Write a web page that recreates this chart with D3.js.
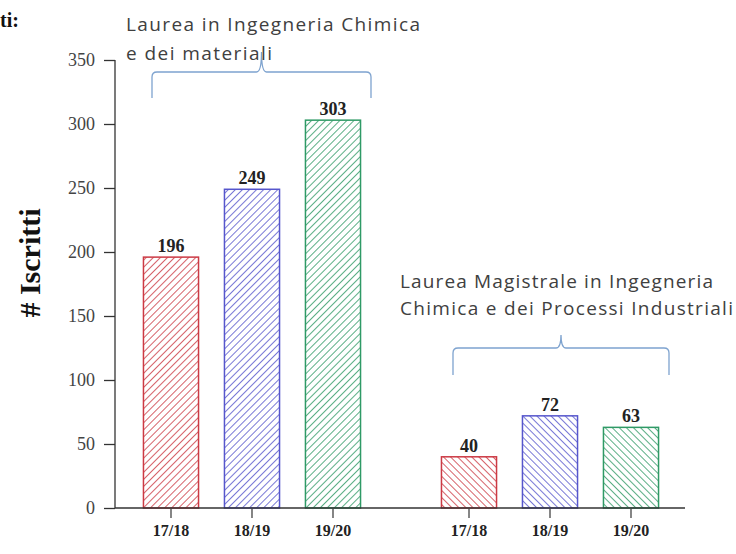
<!DOCTYPE html>
<html>
<head>
<meta charset="utf-8">
<script src="https://cdn.jsdelivr.net/npm/d3@7"></script>
<style>
body{margin:0;background:#fff;}
svg{display:block;}
</style>
</head>
<body>
<script>
// data
var groups = ['LT', 'LM'];
var years = ['17/18', '18/19', '19/20'];
var iscrittiLT = [196, 249, 303];
var iscrittiLM = [40, 72, 63];
var yTicks = [0, 50, 100, 150, 200, 250, 300, 350];
var groupLabels = [
	['Laurea in Ingegneria Chimica', 'e dei materiali'],
	['Laurea Magistrale in Ingegneria', 'Chimica e dei Processi Industriali']
];
var colors = ['#cc3a44', '#5656cc', '#2f9a66'];

var w = 736, h = 554;
var svg = d3.select("body").append("svg")
	.attr("width", w)
	.attr("height", h);

var y = d3.scaleLinear().domain([0, 350]).range([508, 60]);
var x0 = d3.scaleBand().domain(groups).range([130.5, 671.5]).paddingInner(0.1846).paddingOuter(0);
var x1 = d3.scaleBand().domain(years).range([0, x0.bandwidth()]).paddingInner(0.32).paddingOuter(0.16);

var rows = [];
groups.forEach(function(g, gi)
{
	var vals = gi == 0 ? iscrittiLT : iscrittiLM;
	years.forEach(function(yr, i)
	{
		rows.push({group: g, gi: gi, year: yr, i: i, value: vals[i]});
	});
});

// hatch patterns
var defs = svg.append("defs");
rows.forEach(function(d)
{
	var p = defs.append("pattern")
		.attr("id", "h" + d.gi + d.i)
		.attr("patternUnits", "userSpaceOnUse")
		.attr("width", 5)
		.attr("height", 5)
		.attr("patternTransform", "rotate(" + (d.gi == 0 ? 45 : -45) + ")");
	p.append("rect").attr("width", 5).attr("height", 5).attr("fill", "#fff");
	p.append("line")
		.attr("x1", 0).attr("x2", 0)
		.attr("y1", 0).attr("y2", 5)
		.attr("stroke", colors[d.i])
		.attr("stroke-width", 1.6);
});

function bx(d){return x0(d.group) + x1(d.year);}

svg.selectAll("rect.bar")
	.data(rows)
	.enter()
	.append("rect")
	.attr("class", "bar")
	.attr("x", bx)
	.attr("y", function(d){return y(d.value);})
	.attr("width", x1.bandwidth())
	.attr("height", function(d){return y(0) - y(d.value);})
	.attr("fill", function(d){return "url(#h" + d.gi + d.i + ")";})
	.attr("stroke", function(d){return colors[d.i];})
	.attr("stroke-width", 1.5);

svg.selectAll("text.val")
	.data(rows)
	.enter()
	.append("text")
	.attr("class", "val")
	.attr("x", function(d){return bx(d) + x1.bandwidth() / 2;})
	.attr("y", function(d){return y(d.value) - 5;})
	.attr("text-anchor", "middle")
	.style("font-family", "'Liberation Serif', serif")
	.style("font-weight", "bold")
	.style("font-size", "18px")
	.style("fill", "#222")
	.text(function(d){return d.value;});

// y axis
var yAxis = svg.append("g")
	.attr("transform", "translate(115,0)")
	.call(d3.axisLeft(y).tickValues(yTicks).tickSize(11).tickPadding(9));
yAxis.selectAll("text")
	.style("font-family", "'Liberation Serif', serif")
	.style("font-size", "18px")
	.style("fill", "#444");
yAxis.selectAll("line, path").attr("stroke", "#333").attr("stroke-width", 1.3);
yAxis.select("path").attr("d", "M0," + y(350) + "V" + y(0));

// x axis
svg.append("line")
	.attr("x1", 115).attr("x2", 685)
	.attr("y1", y(0)).attr("y2", y(0))
	.attr("stroke", "#333")
	.attr("stroke-width", 1.3);

svg.selectAll("line.xt")
	.data(rows)
	.enter()
	.append("line")
	.attr("class", "xt")
	.attr("x1", function(d){return bx(d) + x1.bandwidth() / 2;})
	.attr("x2", function(d){return bx(d) + x1.bandwidth() / 2;})
	.attr("y1", y(0))
	.attr("y2", y(0) + 10)
	.attr("stroke", "#444")
	.attr("stroke-width", 1.3);

svg.selectAll("text.xl")
	.data(rows)
	.enter()
	.append("text")
	.attr("class", "xl")
	.attr("x", function(d){return bx(d) + x1.bandwidth() / 2;})
	.attr("y", 536)
	.attr("text-anchor", "middle")
	.style("font-family", "'Liberation Serif', serif")
	.style("font-weight", "bold")
	.style("font-size", "16px")
	.style("fill", "#222")
	.text(function(d){return d.year;});

// y title
svg.append("text")
	.attr("transform", "translate(40,263) rotate(-90)")
	.attr("text-anchor", "middle")
	.style("font-family", "'Liberation Serif', serif")
	.style("font-weight", "bold")
	.style("font-size", "30px")
	.style("fill", "#111")
	.text("# Iscritti");

svg.append("text")
	.attr("x", 0)
	.attr("y", 27)
	.style("font-family", "'Liberation Serif', serif")
	.style("font-weight", "bold")
	.style("font-size", "20px")
	.style("fill", "#111")
	.text("ti:");

// braces
function brace(xa, xb, ybot, yh, ypeak)
{
	var xc = (xa + xb) / 2, r = 5;
	var p = d3.path();
	p.moveTo(xa, ybot);
	p.lineTo(xa, yh + r);
	p.quadraticCurveTo(xa, yh, xa + r, yh);
	p.lineTo(xc - r, yh);
	p.quadraticCurveTo(xc, yh, xc, ypeak);
	p.quadraticCurveTo(xc, yh, xc + r, yh);
	p.lineTo(xb - r, yh);
	p.quadraticCurveTo(xb, yh, xb, yh + r);
	p.lineTo(xb, ybot);
	return p.toString();
}

var braceData = [
	{xa: 152, xb: 371, ybot: 98, yh: 72, ypeak: 52},
	{xa: 453, xb: 669, ybot: 375, yh: 348, ypeak: 335}
];
svg.selectAll("path.brace")
	.data(braceData)
	.enter()
	.append("path")
	.attr("class", "brace")
	.attr("d", function(d){return brace(d.xa, d.xb, d.ybot, d.yh, d.ypeak);})
	.attr("fill", "none")
	.attr("stroke", "#7ea3cf")
	.attr("stroke-width", 1.3);

// group labels
var labelPos = [
	{x: 126, y: 31, dy: 29, len: [294, 146]},
	{x: 400, y: 288, dy: 27, len: [313, 333]}
];
groupLabels.forEach(function(lines, gi)
{
	var t = svg.append("text")
		.style("font-family", "'Open Sans', sans-serif")
		.style("font-size", "19px")
		.style("fill", "#404040");
	lines.forEach(function(s, k)
	{
		t.append("tspan")
			.attr("x", labelPos[gi].x)
			.attr("y", labelPos[gi].y + k * labelPos[gi].dy)
			.attr("textLength", labelPos[gi].len[k])
			.attr("lengthAdjust", "spacing")
			.text(s);
	});
});
</script>
</body>
</html>
